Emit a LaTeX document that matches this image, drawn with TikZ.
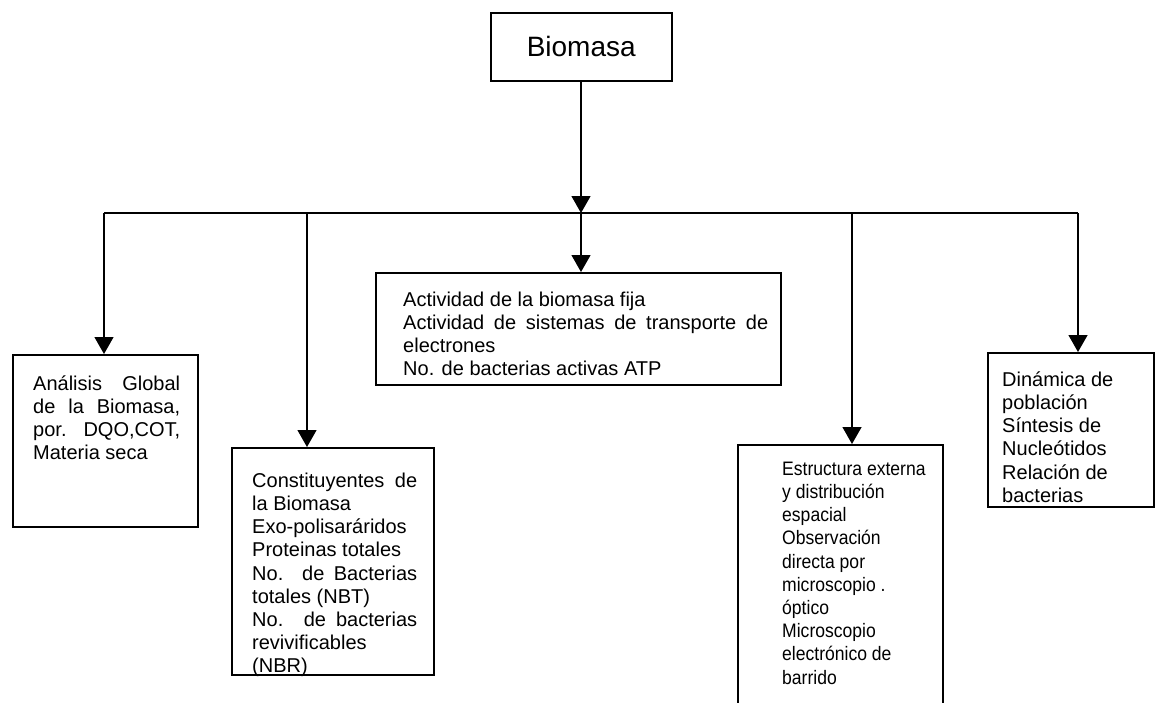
\documentclass[tikz,border=0pt]{standalone}
\usepackage{fontspec}
\setmainfont{Liberation Sans}
\newfontfamily\narrowsans[FakeStretch=0.9]{Liberation Sans}
\usetikzlibrary{arrows.meta}
\newcommand\fullline[2]{\makebox[#1][s]{#2}}
\begin{document}
\begin{tikzpicture}[x=1pt,y=-1pt,
  frame/.style={draw, line width=1.5pt, rectangle, inner sep=0pt, anchor=north west},
  body/.style={anchor=north west, inner sep=0pt, align=left,
    font=\fontsize{20}{23.2}\selectfont},
  link/.style={line width=1.3pt},
  feed/.style={line width=1.3pt, -{Triangle[length=17pt,width=19pt]}}]
\useasboundingbox (0,0) rectangle (1159,702);

% top box
\node[frame, minimum width=181pt, minimum height=68pt,
      font=\fontsize{28}{32}\selectfont] (top) at (490,12) {Biomasa};

% frames of the five branches
\node[frame, minimum width=185pt, minimum height=172pt] (b1) at (12,354) {};
\node[frame, minimum width=202pt, minimum height=227pt] (b2) at (231,447) {};
\node[frame, minimum width=405pt, minimum height=112pt] (b3) at (375,272) {};
\node[frame, minimum width=205pt, minimum height=290pt] (b4) at (737,444) {};
\node[frame, minimum width=166pt, minimum height=154pt] (b5) at (987,352) {};

% texts of the branches
\node[body] (t1) at (33,371) {\rule{0pt}{19pt}\fullline{147pt}{Análisis Global}\\
  \fullline{147pt}{de la Biomasa,}\\
  \fullline{147pt}{por. DQO,COT,}\\
  Materia seca};
\node[body] (t2) at (252,468) {\rule{0pt}{19pt}\fullline{165pt}{Constituyentes de}\\
  la Biomasa\\
  Exo-polisaráridos\\
  Proteinas totales\\
  \fullline{165pt}{No. de Bacterias}\\
  totales (NBT)\\
  \fullline{165pt}{No. de bacterias}\\
  revivificables\\
  (NBR)};
\node[body] (t3) at (403,287) {\rule{0pt}{19pt}Actividad de la biomasa fija\\
  \fullline{365pt}{Actividad de sistemas de transporte de}\\
  electrones\\
  No. de bacterias activas ATP};
\node[body, font=\narrowsans\fontsize{19.5}{23.2}\selectfont] (t4) at (782,456)
  {\rule{0pt}{19pt}Estructura externa\\
  y distribución\\
  espacial\\
  Observación\\
  directa por\\
  microscopio .\\
  óptico\\
  Microscopio\\
  electrónico de\\
  barrido};
\node[body] (t5) at (1002,367) {\rule{0pt}{19pt}Dinámica de\\
  población\\
  Síntesis de\\
  Nucleótidos\\
  Relación de\\
  bacterias};

% distribution bar
\coordinate (p1) at (104,213);
\coordinate (p2) at (307,213);
\coordinate (hub) at (581,213);
\coordinate (p4) at (852,213);
\coordinate (p5) at (1078,213);

\draw[link] (p1) -- (p5);
\draw[feed] (top.south -| hub) -- (hub);
\draw[feed] (hub) -- (hub |- b3.north);
\draw[feed] (p1) -- (p1 |- b1.north);
\draw[feed] (p2) -- (p2 |- b2.north);
\draw[feed] (p4) -- (p4 |- b4.north);
\draw[feed] (p5) -- (p5 |- b5.north);
\end{tikzpicture}
\end{document}
